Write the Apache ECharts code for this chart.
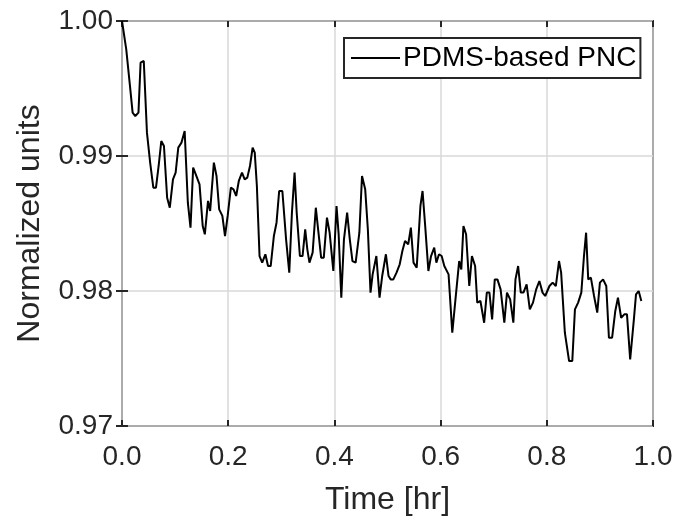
<!DOCTYPE html>
<html>
<head>
<meta charset="utf-8">
<script src="https://cdn.jsdelivr.net/npm/echarts@6/dist/echarts.min.js"></script>
<style>
html,body{margin:0;padding:0;background:#fff;}
#chart{width:676px;height:516px;}
</style>
</head>
<body>
<div id="chart"></div>
<script>
var seriesName = 'PDMS-based PNC';
var xTitle = 'Time [hr]';
var yTitle = 'Normalized units';

var timeHr = [0.000,0.008,0.015,0.020,0.025,0.031,0.035,0.041,0.047,0.053,
0.059,0.064,0.069,0.074,0.079,0.085,0.090,0.096,0.101,0.106,
0.112,0.118,0.124,0.129,0.134,0.140,0.146,0.152,0.156,0.162,
0.166,0.173,0.178,0.183,0.189,0.194,0.199,0.205,0.210,0.215,
0.220,0.226,0.231,0.236,0.241,0.246,0.250,0.254,0.259,0.264,
0.270,0.275,0.280,0.286,0.291,0.296,0.302,0.309,0.315,0.320,
0.325,0.329,0.335,0.340,0.345,0.349,0.353,0.359,0.365,0.370,
0.375,0.380,0.386,0.391,0.398,0.404,0.408,0.413,0.418,0.424,
0.429,0.434,0.440,0.447,0.452,0.458,0.463,0.468,0.472,0.479,
0.485,0.490,0.497,0.502,0.506,0.511,0.517,0.523,0.528,0.533,
0.539,0.544,0.549,0.555,0.562,0.566,0.571,0.577,0.582,0.588,
0.592,0.597,0.602,0.607,0.615,0.622,0.628,0.635,0.639,0.643,
0.648,0.654,0.659,0.665,0.669,0.675,0.682,0.687,0.692,0.697,
0.702,0.707,0.713,0.720,0.725,0.731,0.737,0.741,0.746,0.751,
0.756,0.762,0.768,0.774,0.780,0.786,0.792,0.797,0.805,0.811,
0.817,0.823,0.827,0.834,0.842,0.848,0.853,0.859,0.865,0.870,
0.874,0.878,0.883,0.889,0.895,0.900,0.906,0.912,0.917,0.923,
0.929,0.934,0.940,0.946,0.951,0.957,0.964,0.968,0.973,0.978];

var normValues = [1.00000,0.99790,0.99519,0.99321,0.99296,0.99321,0.99691,0.99704,0.99173,0.98951,
0.98765,0.98765,0.98926,0.99111,0.99074,0.98691,0.98617,0.98827,0.98877,0.99062,
0.99099,0.99185,0.98654,0.98469,0.98914,0.98852,0.98790,0.98481,0.98420,0.98667,
0.98593,0.98951,0.98852,0.98605,0.98556,0.98407,0.98556,0.98765,0.98753,0.98704,
0.98815,0.98877,0.98827,0.98840,0.98926,0.99062,0.99025,0.98778,0.98259,0.98210,
0.98272,0.98185,0.98185,0.98407,0.98506,0.98741,0.98741,0.98383,0.98136,0.98580,
0.98877,0.98580,0.98259,0.98259,0.98457,0.98309,0.98210,0.98284,0.98617,0.98432,
0.98247,0.98247,0.98543,0.98432,0.98148,0.98630,0.98420,0.97951,0.98383,0.98580,
0.98383,0.98222,0.98210,0.98432,0.98852,0.98753,0.98457,0.97988,0.98123,0.98259,
0.97951,0.98111,0.98272,0.98111,0.98086,0.98086,0.98136,0.98198,0.98296,0.98370,
0.98346,0.98469,0.98210,0.98173,0.98630,0.98741,0.98481,0.98148,0.98259,0.98321,
0.98210,0.98272,0.98259,0.98185,0.98123,0.97691,0.97938,0.98222,0.98160,0.98481,
0.98420,0.98037,0.98259,0.98185,0.97914,0.97926,0.97765,0.97988,0.97988,0.97790,
0.98086,0.98086,0.98012,0.97765,0.97988,0.97938,0.97765,0.98086,0.98185,0.97988,
0.97988,0.98049,0.97864,0.97914,0.98012,0.98074,0.97988,0.97963,0.98037,0.98062,
0.98037,0.98222,0.98136,0.97691,0.97481,0.97481,0.97864,0.97914,0.97988,0.98259,
0.98432,0.98086,0.98099,0.97963,0.97840,0.98062,0.98086,0.98037,0.97654,0.97654,
0.97852,0.97951,0.97802,0.97827,0.97827,0.97494,0.97790,0.97975,0.98000,0.97926];

var xTicks = {min: 0, max: 1, interval: 0.2, digits: 1};
var yTicks = {min: 0.97, max: 1.00, interval: 0.01, digits: 2};

var points = timeHr.map(function (t, i) { return [t, normValues[i]]; });

var FONT = "'Liberation Sans', Arial, Helvetica, sans-serif";
var TXT = '#262626';

var chart = echarts.init(document.getElementById('chart'), null, {renderer: 'canvas'});

function xAxisCfg(pos, showLabels) {
  return {
    type: 'value', position: pos,
    min: xTicks.min, max: xTicks.max, interval: xTicks.interval,
    name: showLabels ? xTitle : '',
    nameLocation: 'middle', nameGap: 58,
    nameTextStyle: {fontFamily: FONT, fontSize: 32, color: TXT},
    axisLine: {show: false},
    axisTick: {show: true, inside: true, length: 6, lineStyle: {color: TXT, width: 2}},
    axisLabel: {show: showLabels, margin: 17, fontFamily: FONT, fontSize: 28, color: TXT,
      formatter: function (v) { return v.toFixed(xTicks.digits); }},
    splitLine: {show: showLabels, lineStyle: {color: '#d9d9d9', width: 1.5}}
  };
}
function yAxisCfg(pos, showLabels) {
  return {
    type: 'value', position: pos,
    min: yTicks.min, max: yTicks.max, interval: yTicks.interval,
    name: showLabels ? yTitle : '',
    nameLocation: 'middle', nameGap: 76,
    nameTextStyle: {fontFamily: FONT, fontSize: 32, color: TXT},
    axisLine: {show: false},
    axisTick: {show: true, inside: true, length: 6, lineStyle: {color: TXT, width: 2}},
    axisLabel: {show: showLabels, margin: 9, fontFamily: FONT, fontSize: 28, color: TXT,
      formatter: function (v) { return v.toFixed(yTicks.digits); }},
    splitLine: {show: showLabels, lineStyle: {color: '#d9d9d9', width: 1.5}}
  };
}

chart.setOption({
  animation: false,
  backgroundColor: '#ffffff',
  grid: {left: 122, right: 23, top: 21, bottom: 90, show: true,
    containLabel: false, outerBoundsMode: 'none',
    borderColor: TXT, borderWidth: 2, backgroundColor: 'transparent'},
  legend: {
    show: true, left: 344, top: 38,
    data: [seriesName],
    icon: 'rect', itemWidth: 49, itemHeight: 2, itemGap: 0,
    padding: [6, 4, 6, 7],
    backgroundColor: '#ffffff', borderColor: TXT, borderWidth: 2, borderRadius: 0,
    textStyle: {fontFamily: FONT, fontSize: 28, color: '#000', padding: [0, 0, 0, -2]}
  },
  xAxis: [xAxisCfg('bottom', true), xAxisCfg('top', false)],
  yAxis: [yAxisCfg('left', true), yAxisCfg('right', false)],
  series: [{
    name: seriesName, type: 'line', data: points,
    xAxisIndex: 0, yAxisIndex: 0,
    symbol: 'none', smooth: false,
    lineStyle: {color: '#000000', width: 2},
    itemStyle: {color: '#000000'}
  }]
});
</script>
</body>
</html>
